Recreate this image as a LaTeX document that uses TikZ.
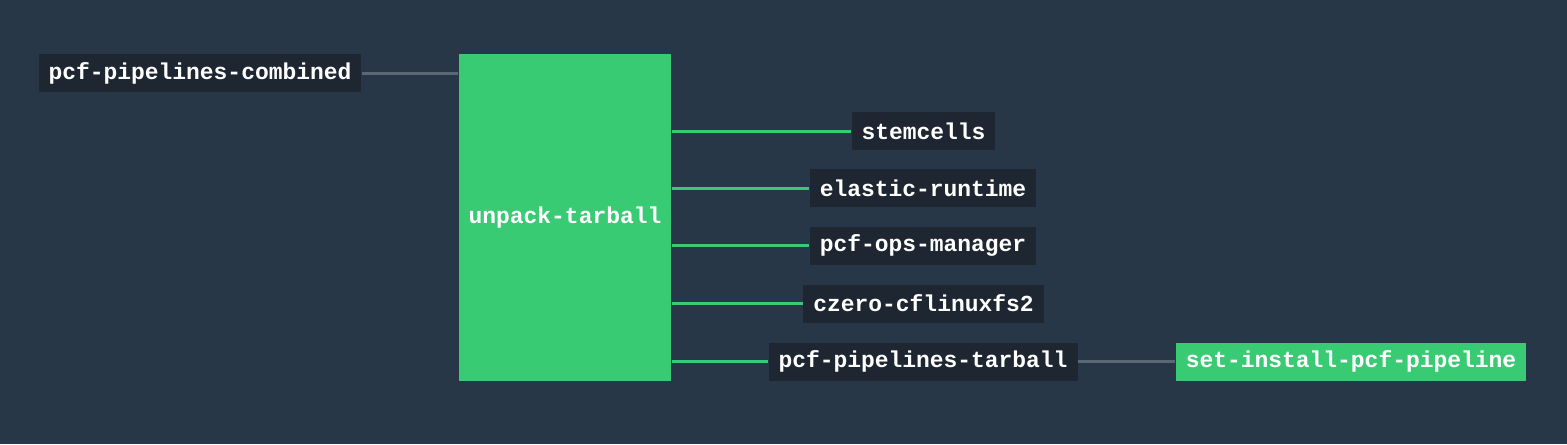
\documentclass[tikz,border=0pt]{standalone}
\usepackage{fontspec}
\setmonofont{Liberation Mono}
\usetikzlibrary{positioning}

\definecolor{bgblue}{HTML}{273747}
\definecolor{resdark}{HTML}{1E2731}
\definecolor{jobgreen}{HTML}{38CB74}
\definecolor{edgegray}{HTML}{5B6775}

\tikzset{
  every picture/.style={line width=0.75pt},
  resource/.style={fill=resdark, text=white, font=\ttfamily\bfseries\fontsize{17.2}{20}\selectfont,
    minimum height=28.5pt, inner xsep=7.5pt, inner ysep=0pt},
  job/.style={resource, fill=jobgreen},
  greenedge/.style={draw=jobgreen, line width=2.25pt},
  grayedge/.style={draw=edgegray, line width=2.25pt}
}

\begin{document}
\begin{tikzpicture}[x=0.75pt,y=0.75pt,yscale=-1,xscale=1]
% background, sets the size of the picture
\fill[bgblue] (0,0) rectangle (1567,444);

% Job
\node [job, minimum width=159pt, minimum height=245.25pt] (unpack) at (565,217.5) {unpack-tarball};
% Job
\node [job] (setinstall) at (1351,361.5) {set-install-pcf-pipeline};
% Input
\node [resource] (combined) at (200,73) {pcf-pipelines-combined};
% Outputs
\node [resource] (stemcells) at (923.5,131) {stemcells};
\node [resource] (elastic) at (923,188) {elastic-runtime};
\node [resource] (opsman) at (923,245.5) {pcf-ops-manager};
\node [resource] (czero) at (923.5,303.5) {czero-cflinuxfs2};
\node [resource] (tarball) at (923,361.5) {pcf-pipelines-tarball};

% Connection
\draw [grayedge] (combined.east) -- (combined.east -| unpack.west);
% Connections
\foreach \out in {stemcells,elastic,opsman,czero,tarball}
  \draw [greenedge] (\out.west -| unpack.east) -- (\out.west);
% Connection
\draw [grayedge] (tarball.east) -- (setinstall.west);

\end{tikzpicture}
\end{document}
